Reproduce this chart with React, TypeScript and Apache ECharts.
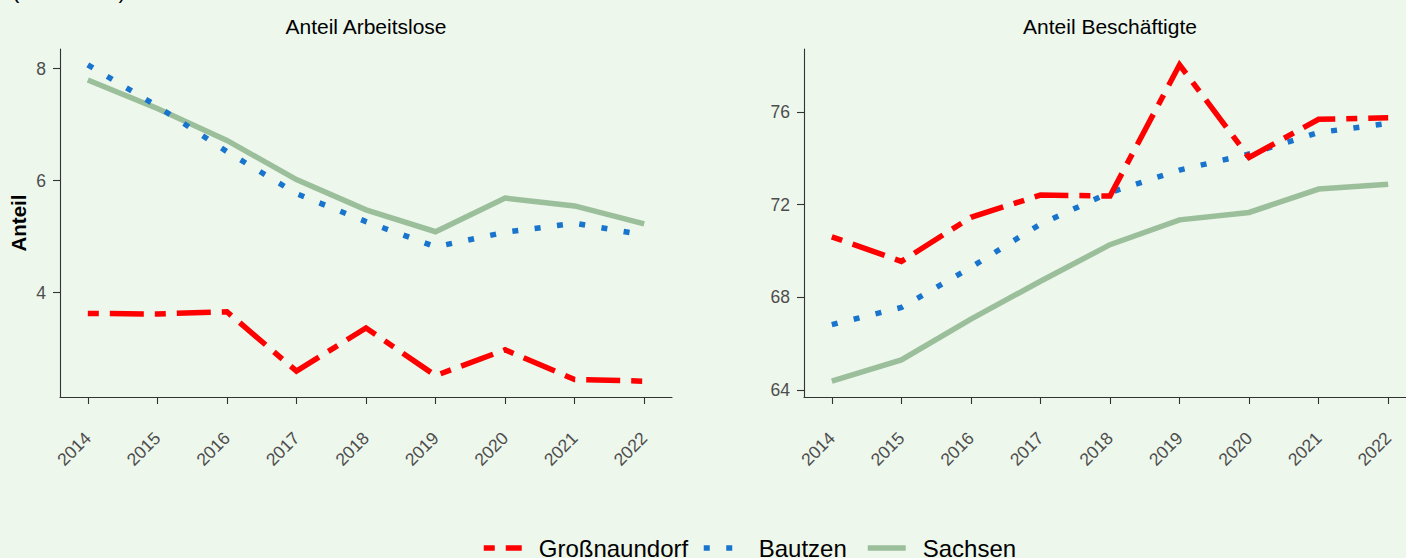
import React, { useEffect, useRef } from "react";
import * as echarts from "echarts";

const years = [2014, 2015, 2016, 2017, 2018, 2019, 2020, 2021, 2022];

// Anteil Arbeitslose (in Prozent)
const alGross = [3.63, 3.62, 3.66, 2.6, 3.37, 2.52, 2.98, 2.45, 2.42];
const alBautzen = [8.07, 7.33, 6.52, 5.77, 5.27, 4.82, 5.08, 5.24, 5.03];
const alSachsen = [7.8, 7.29, 6.72, 6.02, 5.48, 5.09, 5.69, 5.55, 5.23];

// Anteil Beschäftigte (in Prozent)
const beGross = [70.61, 69.55, 71.45, 72.41, 72.37, 78.03, 74.03, 75.68, 75.75];
const beBautzen = [66.82, 67.56, 69.29, 71.16, 72.52, 73.49, 74.18, 75.11, 75.5];
const beSachsen = [64.38, 65.3, 67.06, 68.69, 70.27, 71.34, 71.66, 72.67, 72.88];

const leftTicks = [4, 6, 8];
const rightTicks = [64, 68, 72, 76];

const seriesNames = ["Großnaundorf", "Bautzen", "Sachsen"];
const panelTitles = ["Anteil Arbeitslose", "Anteil Beschäftigte"];

const FONT = "'Liberation Sans', Arial, Helvetica, sans-serif";
const COLORS = { gross: "#FF0000", bautzen: "#1874CD", sachsen: "#9CBF9B" };
const W = 5.5;
const DASH_GROSS = [11, 11, 34, 11];
const DASH_BAUTZEN = [6, 16.5];

// layout
const PANEL_W = 612;
const X_PAD = 0.4;
const CANVAS_W = 1406;
const RIGHT_LEFT = 804;

function extent(arrs: number[][]) {
  const all = arrs.flat();
  const mn = Math.min(...all);
  const mx = Math.max(...all);
  const pad = (mx - mn) * 0.05;
  return [mn - pad, mx + pad];
}

function pairs(vals: number[]) {
  return years.map((y, i) => [y, vals[i]]);
}

export default function App() {
  const ref = useRef<HTMLDivElement>(null);

  useEffect(() => {
    document.body.style.margin = "0";
    if (!ref.current) return;
    const chart = echarts.init(ref.current, null, { renderer: "svg" });

    const le = extent([alGross, alBautzen, alSachsen]);
    const re = extent([beGross, beBautzen, beSachsen]);

    const xMin = years[0] - X_PAD;
    const xMax = years[years.length - 1] + X_PAD;
    const pxPerYear = PANEL_W / (xMax - xMin);
    const rightVisibleW = CANVAS_W - RIGHT_LEFT;
    const rightXMax = xMin + rightVisibleW / pxPerYear;

    const xAxisBase = (gridIndex: number, max: number) => ({
      type: "value" as const,
      gridIndex,
      min: xMin,
      max,
      splitLine: { show: false },
      axisLine: { show: true, lineStyle: { color: "#333333", width: 1.1 } },
      axisTick: {
        show: true,
        length: 7,
        customValues: years,
        lineStyle: { color: "#333333", width: 1.1 },
      },
      axisLabel: {
        customValues: years,
        rotate: 45,
        margin: 38,
        fontSize: 17.5,
        color: "#4D4D4D",
        fontFamily: FONT,
        formatter: (v: number) => String(v),
      },
    });

    const yAxisBase = (gridIndex: number, ext: number[], ticks: number[]) => ({
      type: "value" as const,
      gridIndex,
      min: ext[0],
      max: ext[1],
      splitLine: { show: false },
      axisLine: { show: true, lineStyle: { color: "#333333", width: 1.1 } },
      axisTick: {
        show: true,
        length: 7,
        customValues: ticks,
        lineStyle: { color: "#333333", width: 1.1 },
      },
      axisLabel: {
        customValues: ticks,
        margin: 14,
        fontSize: 17.5,
        color: "#4D4D4D",
        fontFamily: FONT,
        formatter: (v: number) => String(v),
      },
    });

    const mk = (name: string, idx: number, vals: number[], color: string, type: any, z: number) => ({
      type: "line" as const,
      name,
      xAxisIndex: idx,
      yAxisIndex: idx,
      data: pairs(vals),
      symbol: "none",
      z,
      lineStyle: { color, width: W, type, cap: "butt", join: "miter" },
      itemStyle: { color },
    });

    const legendBase = {
      top: 536,
      padding: 0,
      itemWidth: 38,
      itemHeight: 14,
      selectedMode: false,
      itemStyle: { color: "rgba(0,0,0,0)", borderWidth: 0, opacity: 0 },
      textStyle: { fontSize: 24, color: "#000", fontFamily: FONT, padding: [0, 0, 0, 12] },
    };

    const option: any = {
      animation: false,
      backgroundColor: "#EDF7EC",
      grid: [
        { left: 60, top: 49, width: PANEL_W, height: 348, containLabel: false },
        { left: RIGHT_LEFT, top: 49, width: rightVisibleW, height: 348, containLabel: false },
      ],
      xAxis: [xAxisBase(0, xMax), xAxisBase(1, rightXMax)],
      yAxis: [yAxisBase(0, le, leftTicks), yAxisBase(1, re, rightTicks)],
      legend: [
        {
          ...legendBase,
          left: 481,
          data: [seriesNames[0]],
          lineStyle: { width: W, type: DASH_GROSS, cap: "butt" },
        },
        {
          ...legendBase,
          left: 701,
          data: [seriesNames[1]],
          lineStyle: { width: W, type: DASH_BAUTZEN, cap: "butt" },
        },
        {
          ...legendBase,
          left: 865,
          data: [seriesNames[2]],
          lineStyle: { width: W, type: "solid", cap: "butt" },
        },
      ],
      series: [
        mk(seriesNames[2], 0, alSachsen, COLORS.sachsen, "solid", 2),
        mk(seriesNames[1], 0, alBautzen, COLORS.bautzen, DASH_BAUTZEN, 3),
        mk(seriesNames[0], 0, alGross, COLORS.gross, DASH_GROSS, 4),
        mk(seriesNames[2], 1, beSachsen, COLORS.sachsen, "solid", 2),
        mk(seriesNames[1], 1, beBautzen, COLORS.bautzen, DASH_BAUTZEN, 3),
        mk(seriesNames[0], 1, beGross, COLORS.gross, DASH_GROSS, 4),
      ],
      graphic: [
        {
          type: "text",
          x: 12,
          y: -10,
          style: {
            text: "(in Prozent)",
            fontSize: 22,
            fontFamily: FONT,
            fill: "#000",
            textAlign: "left",
            textVerticalAlign: "middle",
          },
        },
        {
          type: "text",
          x: 366,
          y: 26,
          style: {
            text: panelTitles[0],
            fontSize: 21,
            fontFamily: FONT,
            fill: "#000",
            textAlign: "center",
            textVerticalAlign: "middle",
          },
        },
        {
          type: "text",
          x: 1110,
          y: 26,
          style: {
            text: panelTitles[1],
            fontSize: 21,
            fontFamily: FONT,
            fill: "#000",
            textAlign: "center",
            textVerticalAlign: "middle",
          },
        },
        {
          type: "text",
          x: 18,
          y: 223,
          rotation: Math.PI / 2,
          style: {
            text: "Anteil",
            fontSize: 20.5,
            fontWeight: "bold",
            fontFamily: FONT,
            fill: "#000",
            textAlign: "center",
            textVerticalAlign: "middle",
          },
        },
      ],
    };

    chart.setOption(option);
    return () => chart.dispose();
  }, []);

  return <div ref={ref} style={{ width: 1406, height: 558 }} />;
}
